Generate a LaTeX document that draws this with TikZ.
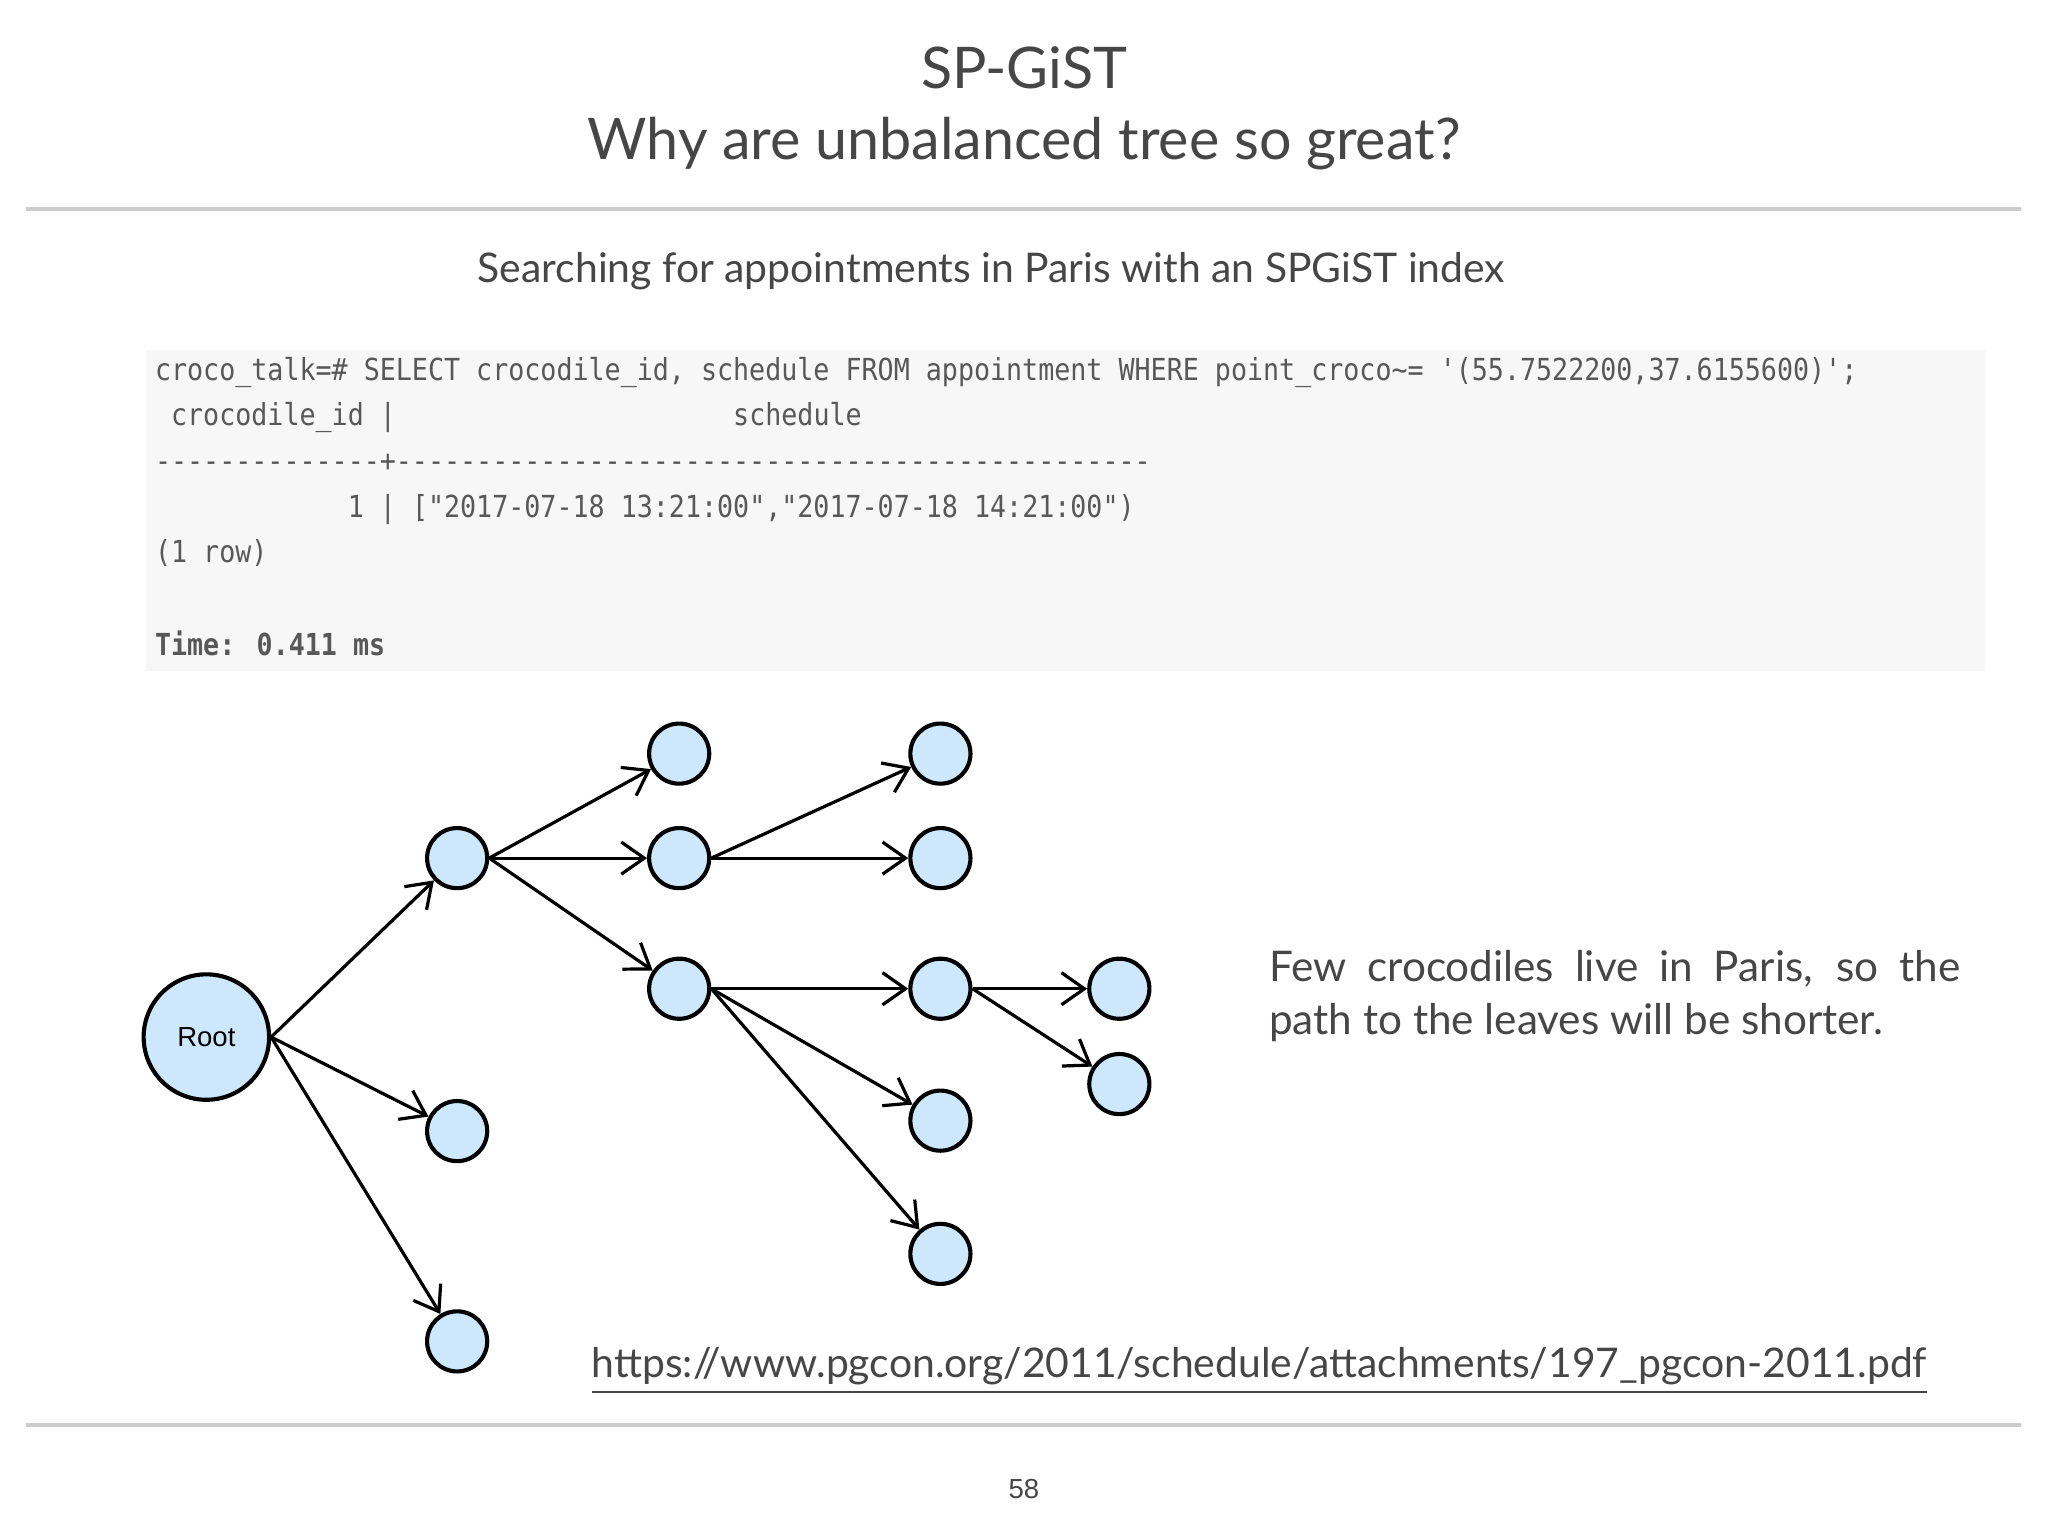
\documentclass[tikz,border=0pt]{standalone}
\usepackage{fontspec}
\setmainfont{Lato}
\newfontfamily\cmono[FakeStretch=0.88]{DejaVu Sans Mono}
\usetikzlibrary{arrows.meta}
\definecolor{txt}{RGB}{70,70,70}
\definecolor{cfill}{RGB}{205,232,252}
\begin{document}
\begin{tikzpicture}[x=0.01cm,y=-0.01cm,
  nd/.style={circle,draw=black,fill=cfill,line width=0.9pt,minimum size=0.46cm,inner sep=0pt},
  ar/.style={-{Straight Barb[length=5pt,width=7pt]},line width=0.7pt},
  code/.style={anchor=base west,inner sep=0pt,font=\cmono\fontsize{6.6}{7}\selectfont,text=txt!90}]
\useasboundingbox (0,0) rectangle (1568,1176);
\fill[white] (0,0) rectangle (1568,1176);
\node[text=txt,font=\fontsize{12.5}{14}\selectfont] (t1) at (784,52) {SP-GiST};
\node[text=txt,font=\fontsize{12.5}{14}\selectfont] (t2) at (784,110) {Why are unbalanced tree so great?};
\draw[gray!40,line width=1pt] (20,160) -- (1547,160);
\draw[gray!40,line width=1pt] (20,1091) -- (1547,1091);
\node[text=txt,font=\fontsize{8.9}{10}\selectfont] (t3) at (759,208) {Searching for appointments in Paris with an SPGiST index};
\fill[black!3] (112,268) rectangle (1520,514);
\node[code] (c1) at (118,291) {croco\_talk=\# SELECT crocodile\_id, schedule FROM appointment WHERE point\_croco\textasciitilde= '(55.7522200,37.6155600)';};
\node[code] (c2) at (118,326) {\ crocodile\_id |\ \ \ \ \ \ \ \ \ \ \ \ \ \ \ \ \ \ \ \ \ schedule};
\node[code] (c3) at (118,361) {--------------+-----------------------------------------------};
\node[code] (c4) at (118,396) {\ \ \ \ \ \ \ \ \ \ \ \ 1 | ["2017-07-18 13:21:00","2017-07-18 14:21:00")};
\node[code] (c5) at (118,431) {(1 row)};
\node[code,font=\cmono\bfseries\fontsize{6.6}{7}\selectfont] (c6) at (118,502) {Time: 0.411 ms};
% tree
\node[nd,minimum size=0.96cm,font=\fontspec{Liberation Sans}\fontsize{6}{7}\selectfont] (R) at (158,794) {Root};
\node[nd] (A) at (350,657) {};
\node[nd] (B) at (350,866) {};
\node[nd] (C) at (350,1027) {};
\node[nd] (D) at (520,577) {};
\node[nd] (E) at (520,657) {};
\node[nd] (F) at (520,757) {};
\node[nd] (G) at (720,577) {};
\node[nd] (H) at (720,657) {};
\node[nd] (I) at (720,757) {};
\node[nd] (J) at (720,858) {};
\node[nd] (K) at (720,960) {};
\node[nd] (L) at (857,757) {};
\node[nd] (M) at (857,830) {};
\foreach \a/\b in {R/A,R/B,R/C,A/D,A/E,A/F,E/G,E/H,F/I,F/J,F/K,I/L,I/M}
  \draw[ar] (\a.east) -- (\b);
\node[text=txt,anchor=north west,text width=5.29cm,align=justify,inner sep=0pt,
  font=\fontsize{9.2}{11.6}\selectfont] (cap) at (971,727) {Few crocodiles live in Paris, so the path to the leaves will be shorter.};
\node[text=txt,anchor=base east,inner sep=0pt,font=\fontsize{8.9}{10}\selectfont] (url) at (1476,1055) {\underline{https://www.pgcon.org/2011/schedule/attachments/197\_pgcon-2011.pdf}};
\node[text=txt,font=\fontspec{Liberation Sans}\fontsize{6}{7}\selectfont] (pg) at (784,1140) {58};
\end{tikzpicture}
\end{document}
